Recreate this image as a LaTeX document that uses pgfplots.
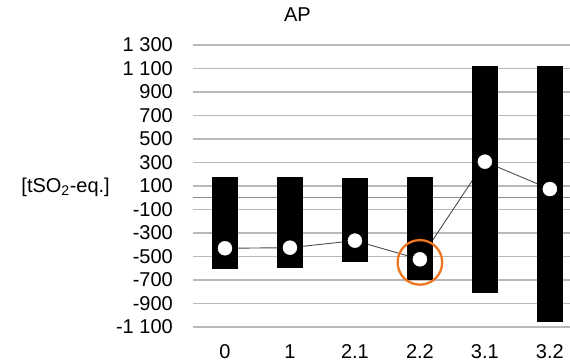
\documentclass[border=0pt]{standalone}
\usepackage{pgfplots}
\usepackage{pgfplotstable}
\pgfplotsset{compat=1.18}
\usepackage{fontspec}
\setmainfont{Liberation Sans}
\definecolor{circorange}{RGB}{237,118,34}

\pgfplotstableread{
x lo d mean
0 -609 783 -430
1 -600 774 -425
2 -544 709 -365
3 -700 874 -524
4 -813 1934 307
5 -1060 2181 74
}\datatab

\begin{document}
\begin{tikzpicture}
\useasboundingbox (-193pt,-36pt) rectangle (377pt,327pt);
\begin{axis}[
  scale only axis,
  width=377pt, height=282pt,
  xmin=-0.492, xmax=5.31,
  ymin=-1100, ymax=1300,
  axis line style={draw=none},
  major tick length=0pt,
  tick style={draw=none},
  xtick={0,1,2,3,4,5},
  xticklabels={0,1,2.1,2.2,3.1,3.2},
  ytick={-1100,-900,-700,-500,-300,-100,100,300,500,700,900,1100,1300},
  yticklabels={-1 100,-900,-700,-500,-300,-100,100,300,500,700,900,1 100,1 300},
  ymajorgrids,
  grid style={draw=black!28, line width=1.3pt},
  extra y ticks={0},
  extra y tick labels={},
  extra y tick style={grid style={draw=black!45, line width=1.4pt}},
  ticklabel style={font=\fontsize{20}{24}\selectfont},
  yticklabel style={anchor=east, inner sep=0pt, xshift=-20pt},
  xticklabel style={anchor=north, inner sep=0pt, yshift=-17.5pt},
  title={AP},
  every axis title/.style={at={(rel axis cs:0,1)}, anchor=center, xshift=104.5pt, yshift=30.5pt, font=\fontsize{20}{24}\selectfont},
  ylabel={[tSO\textsubscript{2}-eq.]},
  every axis y label/.style={at={(rel axis cs:0,0.4965)}, anchor=east, inner sep=0pt, xshift=-83pt, font=\fontsize{20}{24}\selectfont},
]
% connecting line (behind bars)
\addplot[draw=black!70, line width=0.9pt, mark=none] table[x=x, y=mean] {\datatab};
% floating bars
\addplot[draw=none, mark=none,
  error bars/.cd, y dir=plus, y explicit, error mark=none,
  error bar style={draw=black, solid, line width=26pt}]
  table[x=x, y=lo, y error plus=d] {\datatab};
% white markers
\addplot[only marks, mark=*, mark size=7pt, mark options={fill=white, draw=white}] table[x=x, y=mean] {\datatab};
% orange highlight circle
\addplot[only marks, mark=o, mark size=22.3pt, mark options={draw=circorange, line width=2.3pt}] coordinates {(3,-550)};
\end{axis}
\end{tikzpicture}
\end{document}
